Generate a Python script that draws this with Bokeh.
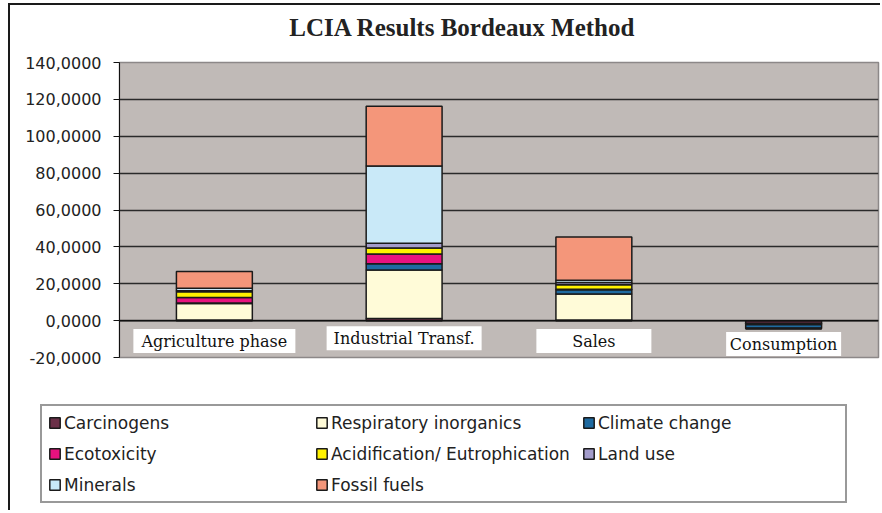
from bokeh.plotting import figure
from bokeh.models import Range1d, FactorRange, FixedTicker, Span, Legend, LegendItem, Label
from bokeh.layouts import column
from bokeh.core.properties import value
from bokeh.embed import file_html
from bokeh.resources import INLINE

# ---- data ----
CATEGORIES = ["Agriculture phase", "Industrial Transf.", "Sales", "Consumption"]
SERIES = ["Carcinogens", "Respiratory inorganics", "Climate change", "Ecotoxicity",
          "Acidification/ Eutrophication", "Land use", "Minerals", "Fossil fuels"]
carcinogens = [0.3, 1.2, 0.3, -1.6]
respiratory = [9.0, 26.3, 14.2, -0.6]
climate_change = [0.3, 3.3, 2.2, -2.1]
ecotoxicity = [3.0, 5.3, 0.3, 0.0]
acidification = [3.0, 3.3, 2.5, 0.0]
land_use = [0.6, 2.5, 1.2, 0.0]
minerals = [1.4, 42.0, 1.2, 0.0]
fossil_fuels = [9.0, 32.4, 23.4, 0.0]
TICKS = [-20, 0, 20, 40, 60, 80, 100, 120, 140]
TICK_LABELS = ["-20,0000", "0,0000", "20,0000", "40,0000", "60,0000",
               "80,0000", "100,0000", "120,0000", "140,0000"]
TITLE = "LCIA Results Bordeaux Method"

# ---- styles ----
COLORS = ["#6B3048", "#FFFBD8", "#1F6AA0", "#E8127F", "#FFF200", "#A39CCB", "#C9E9F8", "#F4967A"]
LABEL_Y = [-11.1, -9.5, -11.1, -12.7]
LABEL_BOX_W = [162, 155, 115, 115]

source = dict(cat=CATEGORIES)
cols = [carcinogens, respiratory, climate_change, ecotoxicity, acidification, land_use, minerals, fossil_fuels]
for name, col in zip(SERIES, cols):
    source[name] = col

# ---- title strip ----
p0 = figure(width=870, height=37, output_backend="svg", toolbar_location=None,
            x_range=Range1d(0, 1), y_range=Range1d(0, 1),
            min_border_left=0, min_border_right=0, min_border_top=0, min_border_bottom=0)
p0.frame_align = False
p0.axis.visible = False
p0.grid.visible = False
p0.outline_line_color = None
p0.add_layout(Label(x=452, y=15, x_units="screen", y_units="screen", text=TITLE,
                    text_align="center", text_baseline="middle",
                    text_font="Liberation Serif", text_font_size="25px",
                    text_font_style="bold", text_color="#222222"))

# ---- main chart ----
p = figure(x_range=FactorRange(*CATEGORIES, range_padding=0), y_range=Range1d(-20, 140),
           width=870, height=338, output_backend="svg", toolbar_location=None,
           min_border_left=109, min_border_right=2, min_border_top=20, min_border_bottom=23)
p.frame_align = False

p.background_fill_color = "#C0BAB7"
p.border_fill_color = "white"
p.outline_line_color = "#8c8888"
p.outline_line_width = 1.5

p.vbar_stack(SERIES, x="cat", width=0.4, source=source, color=COLORS,
             line_color="#1a1a1a", line_width=1.5)

p.add_layout(Span(location=0, dimension="width", line_color="#111111", line_width=1.5))

# category label boxes
p.rect(x=CATEGORIES, y=LABEL_Y, width=LABEL_BOX_W, height=24, width_units="screen",
       height_units="screen", fill_color="white", line_color=None)
p.text(x=CATEGORIES, y=LABEL_Y, text=CATEGORIES, text_align="center", text_baseline="middle",
       text_font=value("DejaVu Serif"), text_font_size="16px", text_color="#111111")

p.xaxis.visible = False
p.xgrid.visible = False
p.ygrid.grid_line_color = "#2a2a2a"
p.ygrid.grid_line_width = 1.5

ya = p.yaxis[0]
ya.ticker = FixedTicker(ticks=TICKS)
ya.major_label_overrides = dict(zip(TICKS, TICK_LABELS))
ya.major_label_text_font = "DejaVu Sans"
ya.major_label_text_font_size = "16px"
ya.major_label_text_color = "#222222"
ya.axis_line_color = "#111111"
ya.major_tick_line_color = "#111111"
ya.major_tick_out = 6
ya.major_tick_in = 0
ya.minor_tick_line_color = None
ya.major_label_standoff = 12

# ---- legend panel (same series, hidden renderers feed the legend glyphs) ----
p2 = figure(width=870, height=130, output_backend="svg", toolbar_location=None,
            x_range=FactorRange(*CATEGORIES), y_range=Range1d(-20, 140),
            min_border_left=0, min_border_right=0, min_border_top=0, min_border_bottom=0)
p2.frame_align = False
p2.axis.visible = False
p2.grid.visible = False
p2.outline_line_color = None
p2.background_fill_color = "white"

rs = p2.vbar_stack(SERIES, x="cat", width=0.4, source=source, color=COLORS,
                   line_color="#1a1a1a", line_width=1.5)
for r in rs:
    r.visible = False
items = [LegendItem(label=name, renderers=[r]) for name, r in zip(SERIES, rs)]

lg = Legend(items=items, location=(30, 7), orientation="horizontal", ncols=3,
            glyph_width=13, glyph_height=13, label_standoff=3, label_width=241,
            label_height=21, spacing=10, padding=6, margin=0,
            label_text_font="DejaVu Sans", label_text_font_size="17px",
            label_text_color="#222222", border_line_color="#333333", border_line_width=2,
            background_fill_color="white", background_fill_alpha=1,
            inactive_fill_alpha=0)
p2.add_layout(lg)

layout = column(p0, p, p2, spacing=0)
layout.styles = {"border-left": "2px solid #1a1a1a", "border-top": "2px solid #1a1a1a",
                 "margin-left": "8px", "margin-top": "3px"}

open("out.html", "w").write(file_html(layout, INLINE))
